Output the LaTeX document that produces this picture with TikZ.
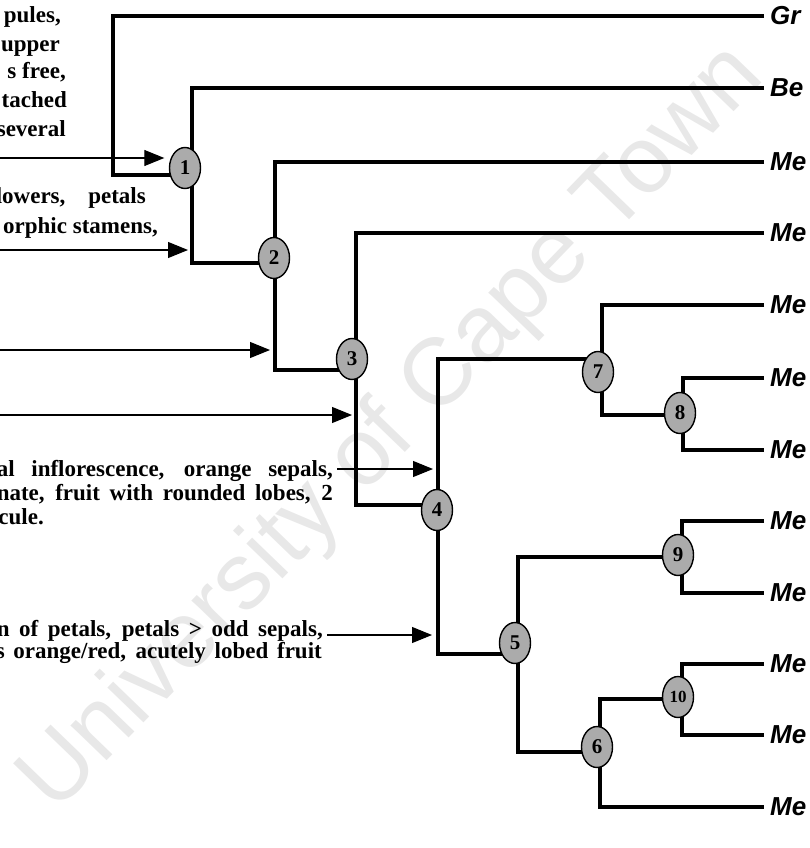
\documentclass[tikz,border=0pt]{standalone}
\usepackage{fontspec}
\setmainfont{Liberation Serif}
\newfontfamily\taxonfont{Liberation Sans}
\usetikzlibrary{arrows.meta,shapes.geometric,backgrounds}

% a justified line: spaces stretched to the given width
\newcommand{\jline}[2]{\makebox[#1][s]{#2}}

\tikzset{
  branch/.style={line width=3.2pt, line join=miter},
  pointer/.style={line width=1.1pt, -{Triangle[length=20pt,width=16pt]}},
  cladenode/.style={ellipse, draw, line width=1.4pt, fill=black!33,
    minimum width=31pt, minimum height=41pt, inner sep=0pt,
    font=\bfseries\fontsize{21}{21}\selectfont},
  taxon/.style={anchor=west, inner sep=0pt,
    font=\taxonfont\bfseries\itshape\fontsize{26}{26}\selectfont},
  trait/.style={anchor=base east, inner sep=0pt,
    font=\bfseries\fontsize{23}{26}\selectfont},
  stamp/.style={text=black!9, anchor=base west, inner sep=0pt, rotate=46,
    font=\taxonfont\fontsize{95}{95}\selectfont}
}

\begin{document}
\begin{tikzpicture}[x=1pt,y=-1pt]
\useasboundingbox (0,0) rectangle (809,848);
\clip (0,0) rectangle (809,848);

% clade nodes
\node[cladenode] (n1) at (185,168) {1};
\node[cladenode] (n2) at (274,258) {2};
\node[cladenode] (n3) at (352,359) {3};
\node[cladenode] (n4) at (437,510) {4};
\node[cladenode] (n5) at (515,643) {5};
\node[cladenode] (n6) at (597,747) {6};
\node[cladenode] (n7) at (598,372) {7};
\node[cladenode] (n8) at (680,413) {8};
\node[cladenode] (n9) at (678,555) {9};
\node[cladenode] (n10) at (678,697) {\fontsize{17}{17}\selectfont 10};

% tips of the terminal branches
\coordinate (e0) at (764,16);
\coordinate (e1) at (764,88);
\coordinate (e2) at (764,162);
\coordinate (e3) at (764,233);
\coordinate (e4) at (764,305);
\coordinate (e5) at (764,378);
\coordinate (e6) at (764,450);
\coordinate (e7) at (764,521);
\coordinate (e8) at (764,593);
\coordinate (e9) at (764,664);
\coordinate (e10) at (764,735);
\coordinate (e11) at (764,807);

% taxon names
\node[taxon] (t0) at ([xshift=6pt]e0) {Gr};
\node[taxon] (t1) at ([xshift=6pt]e1) {Be};
\node[taxon] (t2) at ([xshift=6pt]e2) {Me};
\node[taxon] (t3) at ([xshift=6pt]e3) {Me};
\node[taxon] (t4) at ([xshift=6pt]e4) {Me};
\node[taxon] (t5) at ([xshift=6pt]e5) {Me};
\node[taxon] (t6) at ([xshift=6pt]e6) {Me};
\node[taxon] (t7) at ([xshift=6pt]e7) {Me};
\node[taxon] (t8) at ([xshift=6pt]e8) {Me};
\node[taxon] (t9) at ([xshift=6pt]e9) {Me};
\node[taxon] (t10) at ([xshift=6pt]e10) {Me};
\node[taxon] (t11) at ([xshift=6pt]e11) {Me};

% corners of the branches
\coordinate (j1) at (113,175);
\coordinate (j2) at (192,263);
\coordinate (j3) at (275,370);
\coordinate (j4) at (356,505);
\coordinate (j7) at (438,359);
\coordinate (j5) at (438,654);
\coordinate (j8) at (602,415);
\coordinate (v8) at (683,415);
\coordinate (j9) at (518,557);
\coordinate (j6) at (518,752);
\coordinate (v9) at (682,557);
\coordinate (j10) at (600,699);
\coordinate (v10) at (682,699);

% starts of the character arrows
\coordinate (s1) at (0,158);
\coordinate (s2) at (0,250);
\coordinate (s3) at (0,350);
\coordinate (s4) at (0,415);
\coordinate (s5) at (337,469);
\coordinate (s6) at (327,635);

% character descriptions
\node[trait] (d1a) at (61,23) {pules,};
\node[trait] (d1b) at (60,52) {upper};
\node[trait] (d1c) at (66,79) {s free,};
\node[trait] (d1d) at (67,108) {tached};
\node[trait] (d1e) at (66,136) {several};
\node[trait] (d2a) at (146,203) {\jline{150pt}{lowers, petals}};
\node[trait] (d2b) at (158,233) {orphic stamens,};
\node[trait] (d3a) at (333,476) {\jline{336pt}{al inflorescence, orange sepals,}};
\node[trait] (d3b) at (333,500) {\jline{336pt}{nate, fruit with rounded lobes, 2}};
\node[trait] (d3c) at (44,524) {cule.};
\node[trait] (d4a) at (323,636) {\jline{326pt}{n of petals, petals > odd sepals,}};
\node[trait] (d4b) at (322,658) {\jline{326pt}{s orange/red, acutely lobed fruit}};

\begin{scope}[on background layer]
  % watermark
  \node[stamp] (wm) at (55,815) {University of Cape Town};
  % tree
  \draw[branch] (e0) -| (j1) -- (j1 -| n1);
  \draw[branch] (e1) -| (j2) -- (j2 -| n2);
  \draw[branch] (e2) -| (j3) -- (j3 -| n3);
  \draw[branch] (e3) -| (j4) -- (j4 -| n4);
  \draw[branch] (j7 -| n7) -- (j7) -- (j5) -- (j5 -| n5);
  \draw[branch] (e4) -| (j8) -- (j8 -| n8);
  \draw[branch] (e5) -| (v8) |- (e6);
  \draw[branch] (j9 -| n9) -- (j9) -- (j6) -- (j6 -| n6);
  \draw[branch] (e7) -| (v9) |- (e8);
  \draw[branch] (j10 -| n10) -- (j10) |- (e11);
  \draw[branch] (e9) -| (v10) |- (e10);
  % character arrows
  \draw[pointer, shorten >=4.5pt] (s1) -- (s1 -| n1.west);
  \draw[pointer, shorten >=4pt] (s2) -- (s2 -| j2);
  \draw[pointer, shorten >=5pt] (s3) -- (s3 -| j3);
  \draw[pointer, shorten >=4pt] (s4) -- (s4 -| j4);
  \draw[pointer, shorten >=5pt] (s5) -- (s5 -| j5);
  \draw[pointer, shorten >=6pt] (s6) -- (s6 -| j5);
\end{scope}
\end{tikzpicture}
\end{document}
